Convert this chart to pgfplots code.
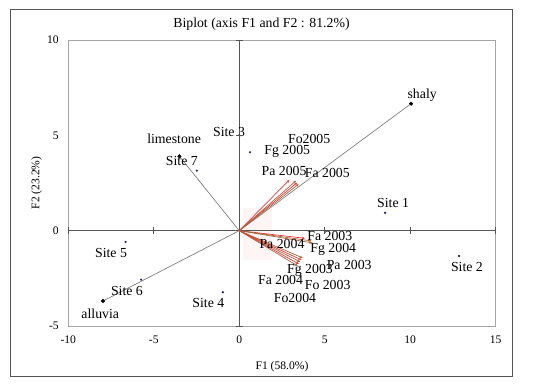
\documentclass[border=0pt]{standalone}
\usepackage{fontspec}
\setmainfont{Liberation Serif}
\usepackage{pgfplots}
\pgfplotsset{compat=1.18}
\usetikzlibrary{arrows.meta}
\definecolor{arrred}{HTML}{E8393A}
\definecolor{arrbrown}{HTML}{A8653F}
\definecolor{framegray}{HTML}{A6A6A6}
\definecolor{zerogray}{HTML}{555555}
\definecolor{suppgray}{HTML}{808080}
\definecolor{sitecol}{HTML}{1F1F7A}
\newcommand{\lab}{\fontsize{13.8bp}{16bp}\selectfont}
\newcommand{\tck}{\fontsize{11.6bp}{14bp}\selectfont}
\begin{document}
\begin{tikzpicture}
\begin{axis}[
  scale only axis,
  width=427.4bp, height=286bp,
  xmin=-10, xmax=15, ymin=-5, ymax=10,
  xtick={-10,-5,0,5,10,15},
  xticklabels={-10,-5,0,5,10,15},
  ytick={-5,0,5,10},
  yticklabels={-5,0,5,10},
  major tick length=0pt,
  axis line style={draw=framegray, line width=0.8bp},
  tick label style={font=\tck},
  xticklabel style={yshift=-6bp},
  yticklabel style={xshift=-6bp},
  xlabel={F1 (58.0\%)},
  ylabel={F2 (23.2\%)},
  xlabel style={font=\tck, at={(axis description cs:0.5,0)}, anchor=center, yshift=-40.7bp},
  ylabel style={font=\tck, at={(axis description cs:0,0.5)}, anchor=center, yshift=31.6bp},
  title={Biplot (axis F1 and F2 : 81.2\%)},
  title style={font=\lab, at={(axis description cs:0.452,1)}, anchor=center, yshift=10bp},
  clip=false,
]
% faint pink highlight near origin
\addplot[draw=none, fill=pink!60, fill opacity=0.25] coordinates {(0.22,1.19) (1.92,1.19) (1.92,-1.54) (0.22,-1.54)} --cycle;
% zero lines
\addplot[zerogray, line width=0.6bp] coordinates {(-10,0) (15,0)};
\addplot[zerogray, line width=0.6bp] coordinates {(0,-5) (0,10)};
\addplot[only marks, mark=|, mark size=3.5bp, zerogray, mark options={line width=0.6bp}] coordinates {(-10,0) (-5,0) (5,0) (10,0) (15,0)};
\addplot[only marks, mark=-, mark size=3.5bp, zerogray, mark options={line width=0.6bp}] coordinates {(0,-5) (0,5) (0,10)};
% supplementary variables
\addplot[suppgray, line width=0.7bp] coordinates {(0,0) (10.05,6.66)};
\addplot[suppgray, line width=0.7bp] coordinates {(0,0) (-3.5,3.9)};
\addplot[suppgray, line width=0.7bp] coordinates {(0,0) (-7.97,-3.69)};
\addplot[only marks, mark=*, mark size=1.8bp, black] coordinates {(10.05,6.66) (-3.5,3.9) (-7.97,-3.69)};
% sites
\addplot[only marks, mark=*, mark size=0.9bp, sitecol] coordinates {
 (8.53,0.94) (12.86,-1.33) (0.63,4.11) (-0.96,-3.23) (-6.65,-0.59) (-5.74,-2.57) (-2.48,3.15)};
% active variables (arrows)
\tikzset{varr/.style={line width=0.7bp, -{Stealth[length=3bp,width=2.6bp]}}}
\addplot[varr, arrred] coordinates {(0,0) (2.93,2.66)};
\addplot[varr, arrbrown] coordinates {(0,0) (3.32,2.62)};
\addplot[varr, arrred] coordinates {(0,0) (3.39,2.52)};
\addplot[varr, arrbrown] coordinates {(0,0) (3.47,2.44)};
\addplot[varr, arrred] coordinates {(0,0) (3.84,-0.40)};
\addplot[varr, arrbrown] coordinates {(0,0) (4.23,-0.54)};
\addplot[varr, arrbrown] coordinates {(0,0) (4.27,-0.64)};
\addplot[varr, arrbrown] coordinates {(0,0) (3.71,-1.43)};
\addplot[varr, arrred] coordinates {(0,0) (3.65,-1.54)};
\addplot[varr, arrbrown] coordinates {(0,0) (3.57,-1.64)};
\addplot[varr, arrred] coordinates {(0,0) (3.49,-1.75)};
\addplot[varr, arrbrown] coordinates {(0,0) (3.42,-1.85)};
% labels
\tikzset{lb/.style={font=\lab, inner sep=0.5bp}}
\node[lb] at (axis cs:9.0,1.44) {Site 1};
\node[lb] at (axis cs:13.32,-1.92) {Site 2};
\node[lb] at (axis cs:-0.6,5.19) {Site 3};
\node[lb] at (axis cs:-3.36,3.65) {Site 7};
\node[lb] at (axis cs:-3.81,4.8) {limestone};
\node[lb] at (axis cs:4.09,4.81) {Fo2005};
\node[lb] at (axis cs:2.81,4.14) {Fg 2005};
\node[lb] at (axis cs:2.62,3.15) {Pa 2005};
\node[lb] at (axis cs:5.15,3.01) {Fa 2005};
\node[lb] at (axis cs:10.70,7.08) {shaly};
\node[lb] at (axis cs:5.3,-0.28) {Fa 2003};
\node[lb] at (axis cs:5.5,-0.98) {Fg 2004};
\node[lb] at (axis cs:2.5,-0.71) {Pa 2004};
\node[lb] at (axis cs:6.43,-1.81) {Pa 2003};
\node[lb] at (axis cs:4.14,-2.11) {Fg 2003};
\node[lb] at (axis cs:2.42,-2.59) {Fa 2004};
\node[lb] at (axis cs:5.17,-2.87) {Fo 2003};
\node[lb] at (axis cs:3.26,-3.51) {Fo2004};
\node[lb] at (axis cs:-7.5,-1.19) {Site 5};
\node[lb] at (axis cs:-6.57,-3.15) {Site 6};
\node[lb] at (axis cs:-8.13,-4.37) {alluvia};
\node[lb] at (axis cs:-1.81,-3.81) {Site 4};
\end{axis}
\draw[zerogray, line width=1bp] (-57.3bp,-50bp) rectangle (443.7bp,316bp);
\path[use as bounding box] (-68.3bp,-63bp) rectangle (481.7bp,326bp);
\end{tikzpicture}
\end{document}
